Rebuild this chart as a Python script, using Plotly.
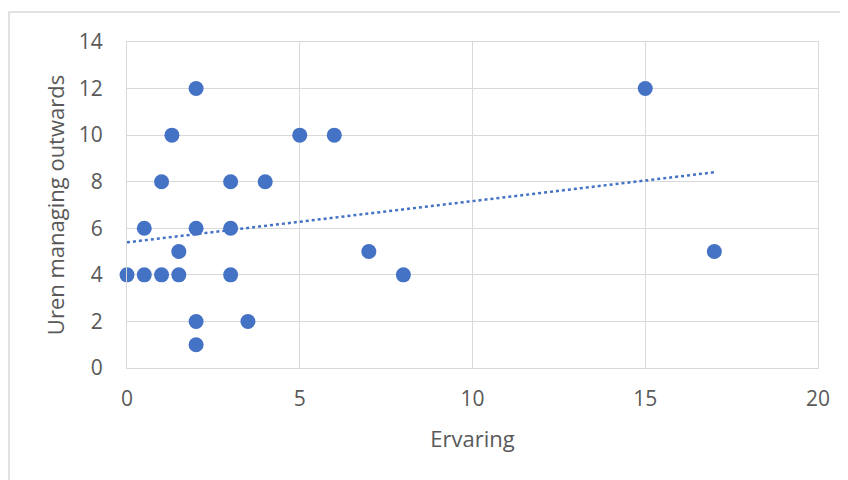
import numpy as np
import plotly.graph_objects as go

ervaring = [0, 0.5, 0.5, 1, 1, 1.3, 1.5, 1.5, 2, 2, 2, 2, 3, 3, 3, 3.5, 4, 5, 6, 7, 8, 15, 17]
uren = [4, 4, 6, 4, 8, 10, 5, 4, 12, 6, 2, 1, 8, 6, 4, 2, 8, 10, 10, 5, 4, 12, 5]
x_ticks = [0, 5, 10, 15, 20]
y_ticks = [0, 2, 4, 6, 8, 10, 12, 14]

slope, intercept = np.polyfit(ervaring, uren, 1)
trend_x = [min(ervaring), max(ervaring)]
trend_y = [intercept + slope * v for v in trend_x]

fig = go.Figure()
fig.add_trace(go.Scatter(x=trend_x, y=trend_y, mode="lines",
                         line=dict(color="#4472C4", width=2.5, dash="dot"),
                         hoverinfo="skip", showlegend=False, cliponaxis=False))
fig.add_trace(go.Scatter(x=ervaring, y=uren, mode="markers",
                         marker=dict(color="#4472C4", size=15, line=dict(width=0)),
                         showlegend=False, cliponaxis=False))

font = "Open Sans, Liberation Sans, sans-serif"
fig.update_layout(
    width=848, height=480,
    margin=dict(l=119, r=38, t=34, b=120),
    paper_bgcolor="white", plot_bgcolor="white",
    font=dict(family=font, color="#595959"),
    xaxis=dict(range=[0, 20], tickvals=x_ticks, showgrid=True, gridcolor="#D9D9D9", gridwidth=1.3,
               zeroline=False, showline=True, linecolor="#D9D9D9", linewidth=1.3, mirror=True,
               automargin=False,
               tickfont=dict(size=21, color="#595959"), ticklabelstandoff=12,
               title=dict(text="Ervaring", font=dict(size=22, color="#595959"), standoff=20)),
    yaxis=dict(range=[0, 14], tickvals=y_ticks, showgrid=True, gridcolor="#D9D9D9", gridwidth=1.3,
               zeroline=False, showline=True, linecolor="#D9D9D9", linewidth=1.3, mirror=True,
               automargin=False,
               tickfont=dict(size=21, color="#595959"), ticklabelstandoff=19,
               title=dict(text="Uren managing outwards", font=dict(size=22, color="#595959"), standoff=7)),
    shapes=[dict(type="rect", xref="paper", yref="paper",
                 x0=(9 - 127) / 691, x1=(860 - 127) / 691,
                 y0=1 - (500 - 41) / 326, y1=1 + (41 - 11) / 326,
                 line=dict(color="#D9D9D9", width=1.5), fillcolor="rgba(0,0,0,0)", layer="below")],
)
fig.write_html("out.html")
